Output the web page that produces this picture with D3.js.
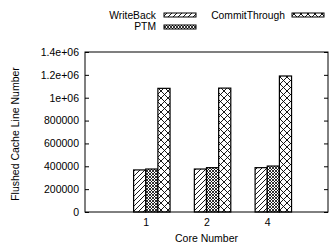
<!DOCTYPE html>
<html><head><meta charset="utf-8">
<script src="https://cdn.jsdelivr.net/npm/d3@7"></script>
<style>body{margin:0;background:#fff}svg{display:block}text{font-family:"Liberation Sans",Arial,sans-serif;font-size:10px;fill:#000}</style>
</head><body>
<script>
const categories = ["1", "2", "4"];
const seriesNames = ["WriteBack", "PTM", "CommitThrough"];
const writeBack = [368000, 376000, 388000];
const ptm = [376000, 388000, 402000];
const commitThrough = [1082000, 1084000, 1190000];
const yTicks = [0, 200000, 400000, 600000, 800000, 1000000, 1200000, 1400000];
const yTickLabels = ["0", "200000", "400000", "600000", "800000", "1e+06", "1.2e+06", "1.4e+06"];

const W = 332, H = 244;
const L = 85, R = 328, T = 52, B = 212;
const svg = d3.select("body").append("svg").attr("width", W).attr("height", H);
const defs = svg.append("defs");

// patterns
const p1 = defs.append("pattern").attr("id", "pWB").attr("patternUnits", "userSpaceOnUse").attr("width", 5).attr("height", 5);
p1.append("rect").attr("width", 5).attr("height", 5).attr("fill", "#fff");
p1.append("path").attr("d", "M0,5L5,0M-1,1L1,-1M4,6L6,4").attr("stroke", "#000").attr("stroke-width", 0.9);
const p2 = defs.append("pattern").attr("id", "pPTM").attr("patternUnits", "userSpaceOnUse").attr("width", 3).attr("height", 3);
p2.append("rect").attr("width", 3).attr("height", 3).attr("fill", "#fff");
p2.append("path").attr("d", "M0,0L3,3M3,0L0,3").attr("stroke", "#000").attr("stroke-width", 0.8);
const p3 = defs.append("pattern").attr("id", "pCT").attr("patternUnits", "userSpaceOnUse").attr("width", 7).attr("height", 7);
p3.append("rect").attr("width", 7).attr("height", 7).attr("fill", "#fff");
p3.append("path").attr("d", "M0,0L7,7M7,0L0,7").attr("stroke", "#000").attr("stroke-width", 0.9);
const fills = ["url(#pWB)", "url(#pPTM)", "url(#pCT)"];

const x = d3.scaleLinear().domain([-1, 3]).range([L, R]);
const y = d3.scaleLinear().domain([0, 1400000]).range([B, T]);
const series = [writeBack, ptm, commitThrough];
const bw = 0.2;

// bars
series.forEach((vals, j) => {
  svg.append("g").selectAll("rect").data(vals).join("rect")
    .attr("x", (d, i) => x(i - bw + j * bw))
    .attr("width", x(bw) - x(0))
    .attr("y", d => y(d))
    .attr("height", d => y(0) - y(d))
    .attr("fill", fills[j]).attr("stroke", "#000").attr("stroke-width", 1.2);
});

// y axis left
const yl = d3.axisLeft(y).tickValues(yTicks).tickFormat((d, i) => yTickLabels[i]).tickSize(-4).tickPadding(6);
const gy = svg.append("g").attr("transform", `translate(${L},0)`).call(yl);
gy.select(".domain").remove();
gy.selectAll("text").style("font-size", "10.5px").style("font-family", "Liberation Sans, Arial, sans-serif");
// y axis right mirror ticks
const yr = d3.axisRight(y).tickValues(yTicks).tickFormat("").tickSize(-4);
const gyr = svg.append("g").attr("transform", `translate(${R},0)`).call(yr);
gyr.select(".domain").remove();

// x axis labels
const xa = d3.axisBottom(x).tickValues([0, 1, 2]).tickFormat((d) => categories[d]).tickSize(0).tickPadding(7);
const gx = svg.append("g").attr("transform", `translate(0,${B})`).call(xa);
gx.select(".domain").remove();
gx.selectAll("text").style("font-size", "10.5px").style("font-family", "Liberation Sans, Arial, sans-serif");

// frame
svg.append("rect").attr("x", L).attr("y", T).attr("width", R - L).attr("height", B - T)
  .attr("fill", "none").attr("stroke", "#000").attr("stroke-width", 1);

// axis titles
svg.append("text").attr("x", (L + R) / 2).attr("y", 242).attr("text-anchor", "middle").style("font-size", "10.5px").text("Core Number");
svg.append("text").attr("transform", `translate(19,${(T + B) / 2 + 2}) rotate(-90)`).attr("text-anchor", "middle").style("font-size", "10.5px").text("Flushed Cache Line Number");

// legend
const legend = [
  {name: seriesNames[0], tx: 156, ty: 19, sx: 164, sy: 13, fill: fills[0]},
  {name: seriesNames[2], tx: 285, ty: 19, sx: 292, sy: 13, fill: fills[2]},
  {name: seriesNames[1], tx: 156, ty: 30, sx: 164, sy: 25, fill: fills[1]}
];
const lg = svg.append("g").selectAll("g").data(legend).join("g");
lg.append("text").attr("x", d => d.tx).attr("y", d => d.ty).attr("text-anchor", "end").style("font-size", "10.3px").text(d => d.name);
lg.append("rect").attr("x", d => d.sx).attr("y", d => d.sy).attr("width", 32).attr("height", 4)
  .attr("fill", d => d.fill).attr("stroke", "#000").attr("stroke-width", 1);
</script>
</body></html>
